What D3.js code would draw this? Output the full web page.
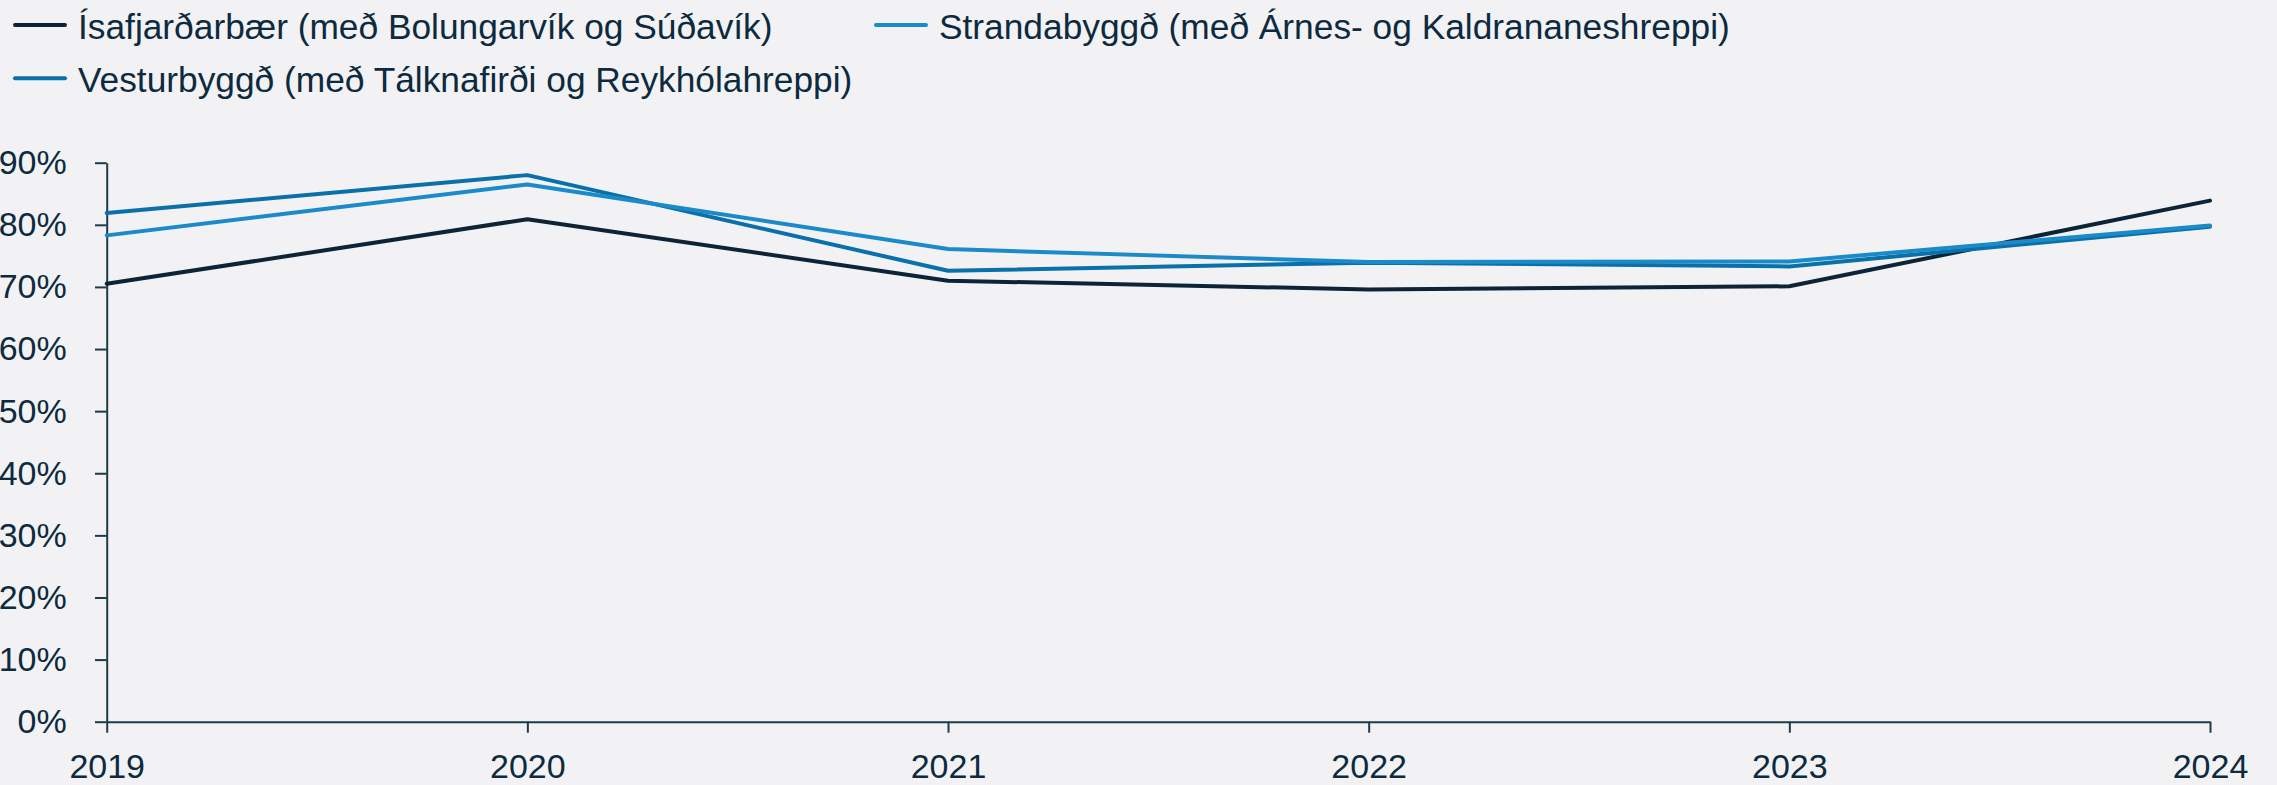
<!DOCTYPE html>
<html>
<head>
<meta charset="utf-8">
<script src="https://cdn.jsdelivr.net/npm/d3@7"></script>
<style>
  html, body { margin: 0; padding: 0; background: #f2f2f4; }
  svg { display: block; }
  text { font-family: "Liberation Sans", Arial, sans-serif; fill: #0d2a3e; }
</style>
</head>
<body>
<svg id="chart"></svg>
<script>
// data
var years = ["2019", "2020", "2021", "2022", "2023", "2024"];
var isafjordur = [0.705, 0.809, 0.710, 0.696, 0.701, 0.839];
var strandabyggd = [0.783, 0.865, 0.761, 0.740, 0.741, 0.799];
var vesturbyggd = [0.819, 0.880, 0.726, 0.739, 0.733, 0.797];
var yTicks = [0, 0.1, 0.2, 0.3, 0.4, 0.5, 0.6, 0.7, 0.8, 0.9];

var series = [
  {name: "Ísafjarðarbær (með Bolungarvík og Súðavík)", values: isafjordur, color: "#0b2438"},
  {name: "Strandabyggð (með Árnes- og Kaldrananeshreppi)", values: strandabyggd, color: "#1a8bc8"},
  {name: "Vesturbyggð (með Tálknafirði og Reykhólahreppi)", values: vesturbyggd, color: "#0a70a9"}
];
// draw order: dark, mid blue, light blue on top
var drawOrder = [series[0], series[2], series[1]];

var W = 2277, H = 785;
var margin = {top: 162.7, left: 106.7, right: 67, bottom: 63.3};

var svg = d3.select("#chart").attr("width", W).attr("height", H);

var x = d3.scalePoint().domain(years).range([margin.left, W - margin.right]);
var y = d3.scaleLinear().domain([0, 0.9]).range([H - margin.bottom, margin.top]);

var axisColor = "#1e3a4c";

// y axis
var yAxis = svg.append("g")
  .attr("transform", "translate(" + margin.left + ",0)")
  .call(d3.axisLeft(y).tickValues(yTicks).tickFormat(d3.format(".0%"))
    .tickSize(11.7).tickSizeOuter(0).tickPadding(28.3));

// x axis
var xAxis = svg.append("g")
  .attr("transform", "translate(0," + (H - margin.bottom) + ")")
  .call(d3.axisBottom(x).tickSize(11).tickSizeOuter(0).tickPadding(21));

[yAxis, xAxis].forEach(function(a) {
  a.selectAll("path, line").attr("stroke", axisColor).attr("stroke-width", 2);
  a.selectAll("text").style("font-size", "34px").attr("fill", "#0d2a3e");
});

// lines
var line = d3.line()
  .x(function(d, i) { return x(years[i]); })
  .y(function(d) { return y(d); });

svg.selectAll(".series")
  .data(drawOrder)
  .enter().append("path")
  .attr("class", "series")
  .attr("d", function(d) { return line(d.values); })
  .attr("fill", "none")
  .attr("stroke", function(d) { return d.color; })
  .attr("stroke-width", 4)
  .attr("stroke-linejoin", "round")
  .attr("stroke-linecap", "round");

// legend
var legendPos = [{x: 15, y: 25}, {x: 876, y: 25}, {x: 15, y: 78.3}];
var legend = svg.selectAll(".legend")
  .data(series)
  .enter().append("g")
  .attr("class", "legend")
  .attr("transform", function(d, i) { return "translate(" + legendPos[i].x + "," + legendPos[i].y + ")"; });

legend.append("line")
  .attr("x1", 0).attr("x2", 50)
  .attr("stroke", function(d) { return d.color; })
  .attr("stroke-width", 4)
  .attr("stroke-linecap", "round");

legend.append("text")
  .attr("x", 63)
  .attr("y", 14)
  .style("font-size", "35.3px")
  .text(function(d) { return d.name; });
</script>
</body>
</html>
